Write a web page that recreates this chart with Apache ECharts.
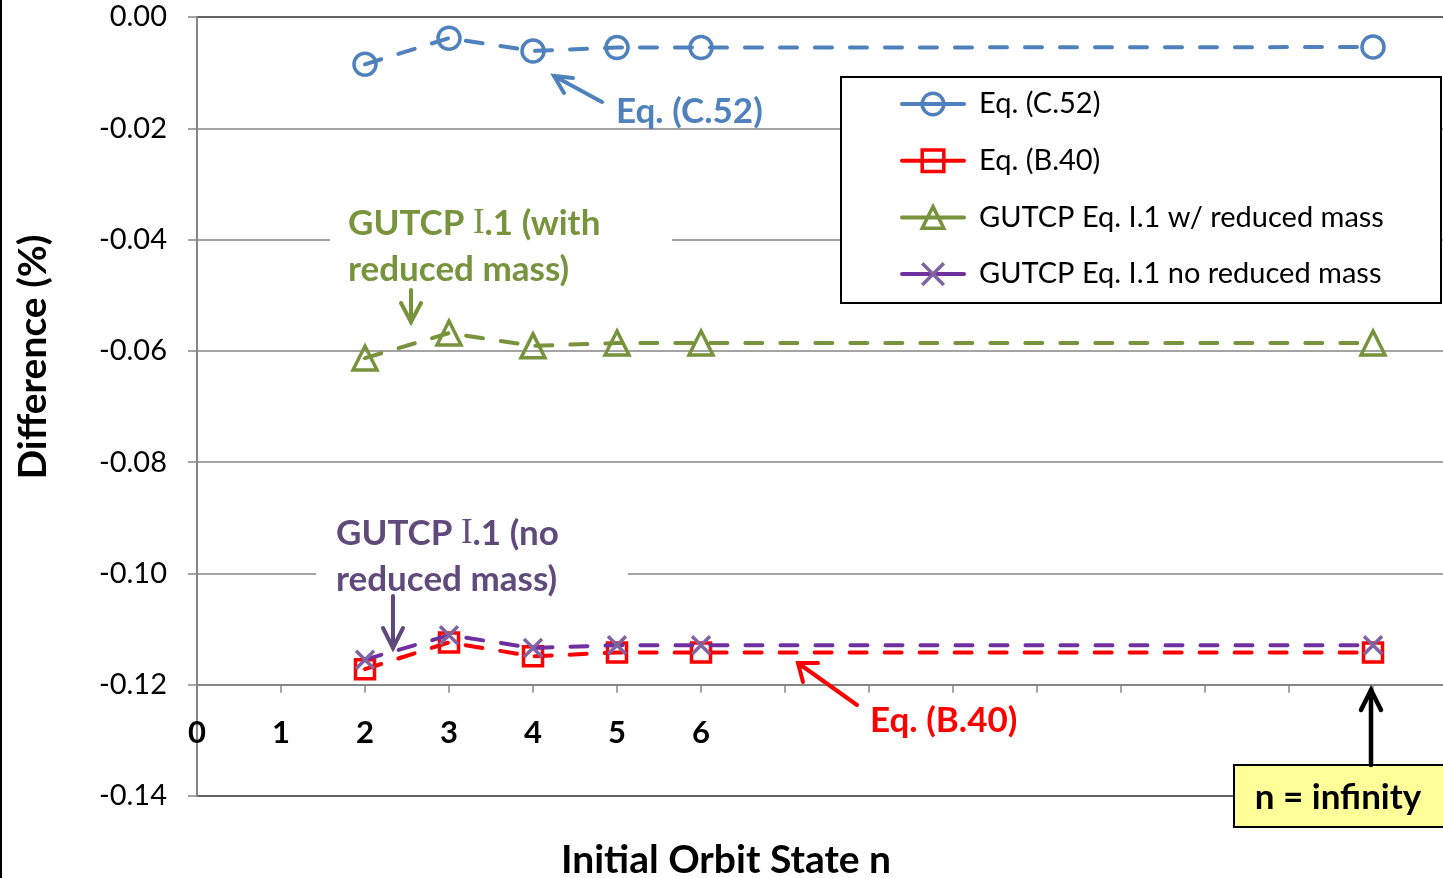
<!DOCTYPE html>
<html>
<head>
<meta charset="utf-8">
<script src="https://cdn.jsdelivr.net/npm/echarts@6/dist/echarts.min.js"></script>
<style>
html,body{margin:0;padding:0;background:#fff;overflow:hidden;}
#chart{width:1470px;height:878px;}
</style>
</head>
<body>
<div id="chart"></div>
<script>
// ---- data ----
var nValues = [2, 3, 4, 5, 6, 14];           // 14 = "n = infinity" position
var xTickLabels = ['0', '1', '2', '3', '4', '5', '6'];
var seriesNames = ['Eq. (C.52)', 'Eq. (B.40)', 'GUTCP Eq. I.1 w/ reduced mass', 'GUTCP Eq. I.1 no reduced mass'];
var eqC52 = [-0.0085, -0.0038, -0.0061, -0.0055, -0.0055, -0.0054];
var eqB40 = [-0.1172, -0.1124, -0.1149, -0.1142, -0.1142, -0.1142];
var gutcpReduced = [-0.0613, -0.0568, -0.0591, -0.0586, -0.0586, -0.0586];
var gutcpNoReduced = [-0.1155, -0.1111, -0.1134, -0.1129, -0.1129, -0.1129];

function pairs(vals) { return nValues.map(function (n, i) { return [n, vals[i]]; }); }

var FONT = 'Lato';
var chart = echarts.init(document.getElementById('chart'), null, { renderer: 'canvas' });

function mkSeries(name, vals, lineColor, markColor, symbol, size, z) {
  return {
    name: name, type: 'line', data: pairs(vals), z: z,
    symbol: symbol, symbolSize: size, showSymbol: true,
    lineStyle: { color: lineColor, width: 4, type: [17, 18], cap: 'round' },
    itemStyle: { color: 'rgba(0,0,0,0)', borderColor: markColor, borderWidth: 3.5 },
    emphasis: { disabled: true },
    animation: false
  };
}

function arrow(tail, tip, w1, w2, color, width) {
  return [
    { type: 'polyline', z: 20, shape: { points: [tail, tip] }, style: { stroke: color, lineWidth: width, lineCap: 'round' } },
    { type: 'polyline', z: 20, shape: { points: [w1, tip, w2] }, style: { stroke: color, lineWidth: width, lineCap: 'round', lineJoin: 'miter', fill: null } }
  ];
}

function gutcpText(x, y, tail, color) {
  return {
    type: 'text', z: 21, x: x, y: y,
    style: {
      text: '{a|GUTCP }{r|I}{a|' + tail + '}',
      verticalAlign: 'middle',
      rich: {
        a: { font: 'bold 35px ' + FONT, fill: color },
        r: { font: '35px "Liberation Serif"', fill: color }
      }
    }
  };
}

var graphics = [
  // left frame edge
  { type: 'line', z: 20, shape: { x1: 1, y1: 0, x2: 1, y2: 878 }, style: { stroke: '#000', lineWidth: 2 } },
  // legend box
  { type: 'rect', z: 3, shape: { x: 841, y: 77, width: 600, height: 226 }, style: { fill: '#fff', stroke: '#000', lineWidth: 2 } },
  // white boxes behind annotation text
  { type: 'rect', z: 10, shape: { x: 330, y: 200, width: 342, height: 95 }, style: { fill: '#fff' } },
  { type: 'rect', z: 10, shape: { x: 316, y: 510, width: 312, height: 86 }, style: { fill: '#fff' } },
  // annotation texts
  { type: 'text', z: 21, x: 616, y: 112, style: { text: 'Eq. (C.52)', font: 'bold 35px ' + FONT, fill: '#4f81bd', verticalAlign: 'middle' } },
  gutcpText(348, 224, '.1 (with', '#77933c'),
  { type: 'text', z: 21, x: 348, y: 270, style: { text: 'reduced mass)', font: 'bold 35px ' + FONT, fill: '#77933c', verticalAlign: 'middle' } },
  gutcpText(336, 534, '.1 (no', '#604a7b'),
  { type: 'text', z: 21, x: 336, y: 580, style: { text: 'reduced mass)', font: 'bold 35px ' + FONT, fill: '#604a7b', verticalAlign: 'middle' } },
  { type: 'text', z: 21, x: 870, y: 721, style: { text: 'Eq. (B.40)', font: 'bold 35px ' + FONT, fill: '#ff0000', verticalAlign: 'middle' } },
  // n = infinity box
  { type: 'rect', z: 20, shape: { x: 1234, y: 765, width: 230, height: 62 }, style: { fill: '#ffff99', stroke: '#000', lineWidth: 2 } },
  { type: 'text', z: 21, x: 1338, y: 798, style: { text: 'n = infinity', font: 'bold 35px ' + FONT, fill: '#000', align: 'center', verticalAlign: 'middle' } },
  // axis titles
  { type: 'text', z: 21, x: 33, y: 357, rotation: Math.PI / 2, style: { text: 'Difference (%)', font: 'bold 39px ' + FONT, fill: '#000', align: 'center', verticalAlign: 'middle' } },
  { type: 'text', z: 21, x: 726, y: 860, style: { text: 'Initial Orbit State n', font: 'bold 39px ' + FONT, fill: '#000', align: 'center', verticalAlign: 'middle' } }
];
graphics = graphics
  .concat(arrow([602, 102], [554, 76], [564, 93], [573, 78], '#4f81bd', 4))
  .concat(arrow([411, 290], [411, 322], [401, 303], [421, 303], '#77933c', 4))
  .concat(arrow([393, 596], [393, 648], [383, 628], [403, 628], '#604a7b', 4))
  .concat(arrow([857, 705], [798, 663], [803, 682], [818, 663], '#ff0000', 4))
  .concat(arrow([1371, 765], [1371, 690], [1361, 710], [1381, 710], '#000', 4.5));

var option = {
  backgroundColor: '#fff',
  animation: false,
  grid: { left: 197, top: 17, width: 1260, height: 779, show: true, borderColor: '#000', borderWidth: 2, backgroundColor: 'transparent', containLabel: false },
  legend: {
    orient: 'vertical', left: 900, top: 89, padding: 0,
    itemWidth: 62, itemHeight: 27, itemGap: 26.7, z: 5,
    data: seriesNames,
    lineStyle: { type: 'solid', width: 4 },
    itemStyle: { borderWidth: 3.5 },
    textStyle: { fontFamily: FONT, fontSize: 29, lineHeight: 30, color: '#000', padding: [0, 0, 0, 10] },
    selectedMode: false
  },
  xAxis: {
    type: 'value', min: 0, max: 15, interval: 1,
    offset: -111.3,
    axisLine: { onZero: false, lineStyle: { color: '#868686', width: 2 } },
    axisTick: { show: true, length: 8, lineStyle: { color: '#868686', width: 1.5 } },
    splitLine: { show: false },
    axisLabel: {
      margin: 33, color: '#000', fontFamily: FONT, fontWeight: 'bold', fontSize: 31,
      formatter: function (v) { return v < xTickLabels.length ? xTickLabels[v] : ''; }
    }
  },
  yAxis: {
    type: 'value', min: -0.14, max: 0, interval: 0.02,
    axisLine: { show: true, lineStyle: { color: '#868686', width: 2 } },
    axisTick: { show: true, length: 9, lineStyle: { color: '#868686', width: 1.5 } },
    splitLine: { show: true, lineStyle: { color: '#868686', width: 1.5 } },
    axisLabel: {
      margin: 30, color: '#000', fontFamily: FONT, fontSize: 29,
      formatter: function (v) { return v.toFixed(2); }
    }
  },
  series: [
    mkSeries(seriesNames[0], eqC52, '#4f81bd', '#4f81bd', 'circle', 22, 2),
    mkSeries(seriesNames[1], eqB40, '#ff0000', '#ff0000', 'rect', 19, 3),
    mkSeries(seriesNames[2], gutcpReduced, '#77933c', '#77933c', 'triangle', 24, 4),
    mkSeries(seriesNames[3], gutcpNoReduced, '#7030a0', '#8064a2', 'path://M0,0L10,10M0,10L10,0', 18, 5)
  ],
  graphic: graphics
};
chart.setOption(option);
</script>
</body>
</html>
